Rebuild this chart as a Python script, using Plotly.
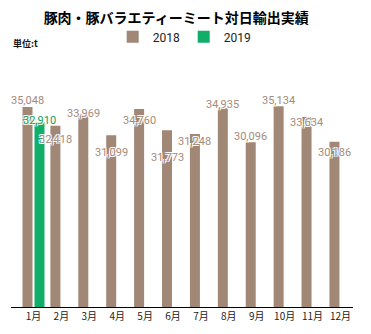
import plotly.graph_objects as go

months = ["1月", "2月", "3月", "4月", "5月", "6月", "7月", "8月", "9月", "10月", "11月", "12月"]
vals_2018 = [35048, 32418, 33969, 31099, 34760, 31773, 31248, 34935, 30096, 35134, 33634, 30186]
months_2019 = ["1月"]
vals_2019 = [32910]

# label vertical offsets (px) as in the reference
label_shift_2018 = [6, -14, 1, -17, -12, -27, -7, 3, 6, 6, -5, -11]
label_shift_2019 = [2]

C18 = "#a08776"
C19 = "#10ae68"

fig = go.Figure()
fig.add_trace(go.Bar(name="2018", x=months, y=vals_2018, marker_color=C18,
                     marker_line_width=0, hoverinfo="skip"))
fig.add_trace(go.Bar(name="2019", x=months_2019, y=vals_2019, marker_color=C19,
                     marker_line_width=0, hoverinfo="skip"))

halo = "1px 1px 0 #fff, -1px -1px 0 #fff, 1px -1px 0 #fff, -1px 1px 0 #fff"
annotations = []
for m, v, s in zip(months, vals_2018, label_shift_2018):
    annotations.append(dict(x=m, y=v, xref="x", yref="y", text=f"{v:,}", showarrow=False,
                            yanchor="middle", xanchor="center", xshift=-6, yshift=s,
                            font=dict(family="Roboto, Noto Sans", size=11, color="#a58b79", shadow=halo)))
for m, v, s in zip(months_2019, vals_2019, label_shift_2019):
    annotations.append(dict(x=m, y=v, xref="x", yref="y", text=f"{v:,}", showarrow=False,
                            yanchor="middle", xanchor="center", xshift=6, yshift=s,
                            font=dict(family="Roboto, Noto Sans", size=11, color="#12a27a",
                                      shadow="1px 1px 0 #fffbe6, -1px -1px 0 #fffbe6, 1px -1px 0 #fffbe6, -1px 1px 0 #fffbe6")))
annotations.append(dict(x=0.0, y=1.11, xref="paper", yref="paper", text="<b>単位:t</b>", showarrow=False,
                        xanchor="left", yanchor="middle",
                        font=dict(family="Noto Sans CJK JP", size=9, color="#111")))

fig.update_layout(
    width=371, height=334,
    margin=dict(l=11, r=18, t=70, b=24),
    paper_bgcolor="white", plot_bgcolor="white",
    barmode="group", bargap=0.14, bargroupgap=0.167,
    title=dict(text="<b>豚肉・豚バラエティーミート対日輸出実績</b>", x=0.475, xanchor="center",
               y=0.945, yanchor="middle",
               font=dict(family="Noto Sans CJK JP", size=14, color="#000")),
    legend=dict(orientation="h", x=0.505, xanchor="center", y=1.14, yanchor="middle",
                font=dict(family="Roboto, Noto Sans", size=12, color="#222"),
                itemwidth=30, entrywidth=26, entrywidthmode="pixels", bgcolor="rgba(0,0,0,0)"),
    xaxis=dict(type="category", range=[-0.806, 11.45], showline=True, linecolor="#000", linewidth=1,
               ticks="", showgrid=False, zeroline=False,
               tickfont=dict(family="Noto Sans CJK JP", size=10, color="#222")),
    yaxis=dict(range=[7100, 40200], visible=False, showgrid=False, zeroline=False),
    annotations=annotations,
    showlegend=True,
)

fig.write_html("out.html")
